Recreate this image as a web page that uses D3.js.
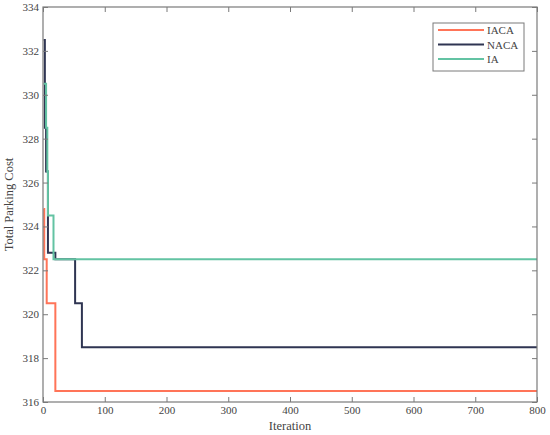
<!DOCTYPE html>
<html><head><meta charset="utf-8">
<script src="https://cdn.jsdelivr.net/npm/d3@7"></script>
<style>body{margin:0;background:#fff}svg{display:block}</style>
</head><body>
<svg id="c" width="550" height="435"></svg>
<script>
const seriesNames = ["IACA", "NACA", "IA"];
const seriesColors = ["#ff7458", "#2f3552", "#63c3a3"];
// change points [iteration, value], drawn as steps
const iacaIter = [1, 2, 6, 20, 800];
const iacaCost = [324.8, 322.5, 320.5, 316.5, 316.5];
const nacaIter = [1, 3, 5, 8, 20, 52, 63, 800];
const nacaCost = [332.5, 328.5, 326.5, 322.8, 322.5, 320.5, 318.5, 318.5];
const iaIter = [1, 5, 7, 8, 17, 800];
const iaCost = [330.5, 328.5, 326.5, 324.5, 322.5, 322.5];
const xTicks = [0, 100, 200, 300, 400, 500, 600, 700, 800];
const yTicks = [316, 318, 320, 322, 324, 326, 328, 330, 332, 334];

const svg = d3.select("#c");
const L = 43, R = 537, T = 7, B = 402;
const x = d3.scaleLinear().domain([0, 800]).range([L, R]);
const y = d3.scaleLinear().domain([316, 334]).range([B, T]);
const font = "'Liberation Serif','Times New Roman',serif";
const axisColor = "#7a7a7a";

const series = [
  {name: seriesNames[0], color: seriesColors[0], pts: iacaIter.map((d,i)=>[d, iacaCost[i]])},
  {name: seriesNames[1], color: seriesColors[1], pts: nacaIter.map((d,i)=>[d, nacaCost[i]])},
  {name: seriesNames[2], color: seriesColors[2], pts: iaIter.map((d,i)=>[d, iaCost[i]])}
];

const line = d3.line().x(d=>x(d[0])).y(d=>y(d[1])).curve(d3.curveStepAfter);
svg.append("g").selectAll("path").data(series).join("path")
  .attr("d", d=>line(d.pts)).attr("fill","none")
  .attr("stroke", d=>d.color).attr("stroke-width", 2);

function styleAxis(g, showLabels){
  g.attr("font-family", font).attr("font-size", 11);
  g.select(".domain").remove();
  g.selectAll("line").attr("stroke", axisColor);
  g.selectAll("text").attr("fill", "#444").style("font-family", font).style("font-size", "11px");
  if(!showLabels) g.selectAll("text").remove();
}
svg.append("g").attr("transform",`translate(0,${B})`)
  .call(d3.axisBottom(x).tickValues(xTicks).tickSize(-5).tickPadding(4).tickFormat(d3.format("d")))
  .call(g=>styleAxis(g,true));
svg.append("g").attr("transform",`translate(0,${T})`)
  .call(d3.axisTop(x).tickValues(xTicks).tickSize(-5))
  .call(g=>styleAxis(g,false));
svg.append("g").attr("transform",`translate(${L},0)`)
  .call(d3.axisLeft(y).tickValues(yTicks).tickSize(-5).tickPadding(4).tickFormat(d3.format("d")))
  .call(g=>styleAxis(g,true));
svg.append("g").attr("transform",`translate(${R},0)`)
  .call(d3.axisRight(y).tickValues(yTicks).tickSize(-5))
  .call(g=>styleAxis(g,false));

svg.append("rect").attr("x",L).attr("y",T).attr("width",R-L).attr("height",B-T)
  .attr("fill","none").attr("stroke",axisColor).attr("stroke-width",1.2);

svg.append("text").attr("x",(L+R)/2).attr("y",430).attr("text-anchor","middle")
  .style("font-family",font).style("font-size","12.5px").attr("fill","#444").text("Iteration");
svg.append("text").attr("transform",`translate(13,${(T+B)/2}) rotate(-90)`).attr("text-anchor","middle")
  .style("font-family",font).style("font-size","12.5px").attr("fill","#444").text("Total Parking Cost");

// legend
const lg = svg.append("g");
lg.append("rect").attr("x",433).attr("y",23).attr("width",91).attr("height",48)
  .attr("fill","#fff").attr("stroke",axisColor).attr("stroke-width",1);
series.forEach((s,i)=>{
  const yy = 30 + i*14.5;
  lg.append("line").attr("x1",438).attr("x2",484).attr("y1",yy).attr("y2",yy)
    .attr("stroke",s.color).attr("stroke-width",2);
  lg.append("text").attr("x",487).attr("y",yy+4).style("font-family",font)
    .style("font-size","11px").attr("fill","#444").text(s.name);
});
</script>
</body></html>
